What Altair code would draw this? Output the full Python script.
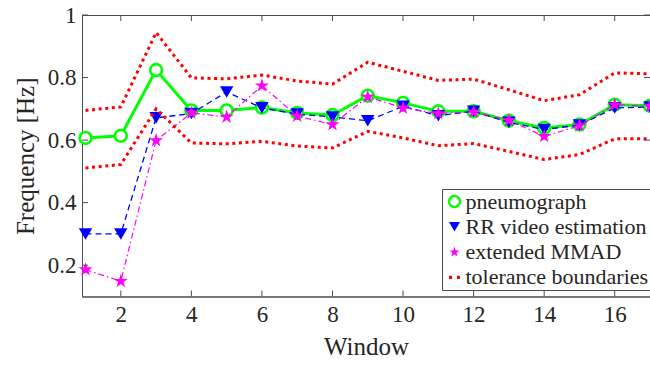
import altair as alt
import pandas as pd

# ---------------- data ----------------
windows = list(range(1, 18))
pneumograph = [0.607, 0.614, 0.824, 0.695, 0.695, 0.704, 0.687, 0.680, 0.742,
               0.719, 0.692, 0.692, 0.662, 0.639, 0.650, 0.713, 0.710]
rr_video = [0.300, 0.300, 0.671, 0.685, 0.754, 0.703, 0.683, 0.674, 0.662,
            0.708, 0.678, 0.692, 0.657, 0.634, 0.648, 0.703, 0.706]
mmad = [0.186, 0.149, 0.599, 0.687, 0.674, 0.774, 0.677, 0.650, 0.738,
        0.703, 0.685, 0.690, 0.663, 0.612, 0.646, 0.713, 0.708]
tol_upper = [0.695, 0.706, 0.944, 0.799, 0.796, 0.808, 0.789, 0.779, 0.849,
             0.820, 0.791, 0.795, 0.761, 0.726, 0.745, 0.815, 0.812]
tol_lower = [0.511, 0.522, 0.700, 0.591, 0.588, 0.596, 0.581, 0.575, 0.628,
             0.607, 0.582, 0.589, 0.564, 0.538, 0.554, 0.604, 0.604]

x_ticks = [2, 4, 6, 8, 10, 12, 14, 16]
y_ticks = [0.2, 0.4, 0.6, 0.8, 1.0]
series_names = ["pneumograph", "RR video estimation", "extended MMAD",
                "tolerance boundaries"]

# ---------------- style ----------------
W, H = 568, 281.5
FONT = "'Liberation Serif', 'Times New Roman', serif"
AX = "#4d4d4d"
TXT = "#262626"
GREEN, BLUE, MAGENTA, RED = "#00ff00", "#0000ff", "#ff00ff", "#ff0000"
STAR = ("M0,-1L0.2245,-0.309L0.951,-0.309L0.3633,0.118L0.5878,0.809L0,0.382"
        "L-0.5878,0.809L-0.3633,0.118L-0.951,-0.309L-0.2245,-0.309Z")
DOTS = "M-1,-0.28H-0.45V0.28H-1Z M0.45,-0.28H1V0.28H0.45Z"


def series_df(name, vals):
    return pd.DataFrame({"window": windows, "value": vals, "series": name})


df_p = series_df(series_names[0], pneumograph)
df_r = series_df(series_names[1], rr_video)
df_m = series_df(series_names[2], mmad)
df_t = pd.DataFrame({
    "window": windows + windows,
    "value": tol_upper + tol_lower,
    "bound": ["upper"] * len(windows) + ["lower"] * len(windows),
    "series": series_names[3],
})

x_enc = alt.X("window:Q",
              scale=alt.Scale(domain=[0.9, 17], nice=False, zero=False),
              axis=alt.Axis(values=x_ticks, title="Window", labelFlush=False,
                            labelPadding=7, titlePadding=8))
y_enc = alt.Y("value:Q",
              scale=alt.Scale(domain=[0.1, 1.0], nice=False, zero=False),
              axis=alt.Axis(values=y_ticks, format="~g", title="Frequency [Hz]",
                            labelFlush=False, labelPadding=6, titlePadding=9))

leg = alt.Legend(title=None)
shape_enc = alt.Shape("series:N", legend=leg,
                      scale=alt.Scale(domain=series_names,
                                      range=["circle", "triangle-down", STAR, DOTS]))
fill_enc = alt.Fill("series:N", legend=leg,
                    scale=alt.Scale(domain=series_names,
                                    range=["white", BLUE, MAGENTA, RED]))
stroke_enc = alt.Stroke("series:N", legend=leg,
                        scale=alt.Scale(domain=series_names,
                                        range=[GREEN, "transparent", "transparent",
                                               "transparent"]))

# lines
line_p = alt.Chart(df_p).mark_line(color=GREEN, strokeWidth=3).encode(x=x_enc, y=y_enc)
line_r = alt.Chart(df_r).mark_line(color=BLUE, strokeWidth=1.3,
                                   strokeDash=[6, 4]).encode(x=x_enc, y=y_enc)
line_m = alt.Chart(df_m).mark_line(color=MAGENTA, strokeWidth=1.2,
                                   strokeDash=[6, 3, 1.5, 3]).encode(x=x_enc, y=y_enc)
line_t = alt.Chart(df_t).mark_line(color=RED, strokeWidth=3, strokeCap="butt",
                                   strokeDash=[3, 3.6]).encode(
    x=x_enc, y=y_enc, detail="bound:N")

# markers
pts_p = alt.Chart(df_p).mark_point(size=140, strokeWidth=2.6, opacity=1).encode(
    x=x_enc, y=y_enc, shape=shape_enc, fill=fill_enc, stroke=stroke_enc)
pts_r = alt.Chart(df_r).mark_point(size=180, strokeWidth=1, opacity=1).encode(
    x=x_enc, y=y_enc, shape=shape_enc, fill=fill_enc, stroke=stroke_enc)
pts_m = alt.Chart(df_m).mark_point(size=220, strokeWidth=1, opacity=1).encode(
    x=x_enc, y=y_enc, shape=shape_enc, fill=fill_enc, stroke=stroke_enc)

# inward ticks on all four sides (MATLAB box style)
xt = pd.DataFrame({"window": x_ticks})
yt = pd.DataFrame({"value": y_ticks})
TL = 6
tick_b = alt.Chart(xt).mark_rule(color=AX, strokeWidth=1).encode(
    x=x_enc, y=alt.value(H), y2=alt.value(H - TL))
tick_t = alt.Chart(xt).mark_rule(color=AX, strokeWidth=1).encode(
    x=x_enc, y=alt.value(0), y2=alt.value(TL))
tick_l = alt.Chart(yt).mark_rule(color=AX, strokeWidth=1).encode(
    y=y_enc, x=alt.value(0), x2=alt.value(TL))
tick_r = alt.Chart(yt).mark_rule(color=AX, strokeWidth=1).encode(
    y=y_enc, x=alt.value(W - TL), x2=alt.value(W))

chart = alt.layer(
    line_p, pts_p, line_r, pts_r, line_m, pts_m, line_t,
    tick_b, tick_t, tick_l, tick_r,
).properties(
    width=W, height=H,
    autosize=alt.AutoSizeParams(type="none"),
    padding={"left": 82, "top": 15, "right": 0, "bottom": 68},
).configure_view(
    stroke=AX, strokeWidth=1
).configure_axis(
    labelFont=FONT, labelFontSize=23, labelColor=TXT,
    titleFont=FONT, titleFontSize=25, titleFontWeight="normal", titleColor=TXT,
    domainColor=AX, domainWidth=1, ticks=False, grid=False,
).configure_legend(
    orient="none", legendX=360, legendY=174,
    fillColor="white", strokeColor=AX, strokeWidth=1, cornerRadius=0,
    padding=1.5, rowPadding=3.3, symbolSize=120, symbolStrokeWidth=2.4,
    labelFont=FONT, labelFontSize=22, labelColor=TXT, labelOffset=0,
    labelLimit=400,
)

chart.save("out.html", embed_options={"renderer": "svg", "actions": False})
